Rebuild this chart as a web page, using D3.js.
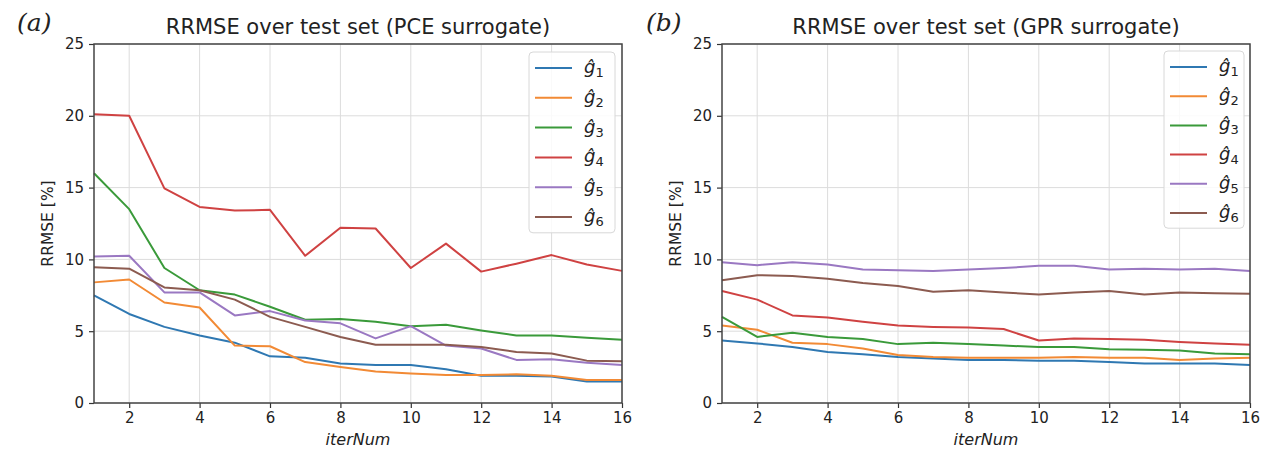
<!DOCTYPE html>
<html>
<head>
<meta charset="utf-8">
<script src="https://cdn.jsdelivr.net/npm/d3@7"></script>
<style>
  body { margin: 0; background: #fff; }
  svg { display: block; font-family: "DejaVu Sans", sans-serif; }
</style>
</head>
<body>
<div id="chart"></div>
<script>
// iteration numbers shared by both panels
const iterNum = [1, 2, 3, 4, 5, 6, 7, 8, 9, 10, 11, 12, 13, 14, 15, 16];
const seriesNames = ['1', '2', '3', '4', '5', '6'];
const seriesColors = ['#2f78b2', '#f28a35', '#3a9a3a', '#cf4242', '#9a78c2', '#8c5b50'];
const yTicks = [0, 5, 10, 15, 20, 25];
const xTicks = [2, 4, 6, 8, 10, 12, 14, 16];

// (a) PCE surrogate, RRMSE in %
const pceG1 = [7.5, 6.2, 5.3, 4.7, 4.2, 3.25, 3.15, 2.75, 2.65, 2.65, 2.35, 1.9, 1.9, 1.85, 1.5, 1.5];
const pceG2 = [8.4, 8.6, 7.0, 6.65, 4.0, 3.95, 2.85, 2.5, 2.2, 2.05, 1.95, 1.95, 2.0, 1.9, 1.6, 1.6];
const pceG3 = [16.0, 13.5, 9.4, 7.85, 7.55, 6.7, 5.8, 5.85, 5.65, 5.35, 5.45, 5.05, 4.7, 4.7, 4.55, 4.4];
const pceG4 = [20.1, 20.0, 14.95, 13.65, 13.4, 13.45, 10.25, 12.2, 12.15, 9.4, 11.1, 9.15, 9.7, 10.3, 9.65, 9.2];
const pceG5 = [10.2, 10.25, 7.7, 7.7, 6.1, 6.4, 5.75, 5.55, 4.5, 5.35, 4.0, 3.8, 3.0, 3.05, 2.8, 2.65];
const pceG6 = [9.45, 9.35, 8.05, 7.85, 7.2, 6.0, 5.3, 4.6, 4.05, 4.05, 4.05, 3.9, 3.55, 3.45, 2.95, 2.9];

// (b) GPR surrogate, RRMSE in %
const gprG1 = [4.35, 4.15, 3.9, 3.55, 3.4, 3.2, 3.1, 3.0, 3.0, 2.95, 2.95, 2.85, 2.75, 2.75, 2.75, 2.65];
const gprG2 = [5.4, 5.1, 4.2, 4.1, 3.8, 3.35, 3.2, 3.15, 3.15, 3.15, 3.2, 3.15, 3.15, 3.0, 3.1, 3.15];
const gprG3 = [6.0, 4.6, 4.9, 4.6, 4.45, 4.1, 4.2, 4.1, 4.0, 3.9, 3.9, 3.75, 3.7, 3.65, 3.45, 3.4];
const gprG4 = [7.8, 7.2, 6.1, 5.95, 5.65, 5.4, 5.3, 5.25, 5.15, 4.35, 4.5, 4.45, 4.4, 4.25, 4.15, 4.05];
const gprG5 = [9.8, 9.6, 9.8, 9.65, 9.3, 9.25, 9.2, 9.3, 9.4, 9.55, 9.55, 9.3, 9.35, 9.3, 9.35, 9.2];
const gprG6 = [8.55, 8.9, 8.85, 8.65, 8.35, 8.15, 7.75, 7.85, 7.7, 7.55, 7.7, 7.8, 7.55, 7.7, 7.65, 7.6];

const width = 1268, height = 450;

const svg = d3.select('#chart')
    .append('svg')
    .attr('width', width)
    .attr('height', height)
    .attr('viewBox', [0, 0, width, height]);

drawPanel({
    left: 94, right: 622, top: 44, bottom: 403,
    tag: '(a)', tagX: 17,
    title: 'RRMSE over test set (PCE surrogate)',
    series: [pceG1, pceG2, pceG3, pceG4, pceG5, pceG6],
    legend: { x: 529, y: 52, w: 86, rowH: 29.8 }
});

drawPanel({
    left: 722, right: 1250, top: 44, bottom: 403,
    tag: '(b)', tagX: 646,
    title: 'RRMSE over test set (GPR surrogate)',
    series: [gprG1, gprG2, gprG3, gprG4, gprG5, gprG6],
    legend: { x: 1164, y: 51, w: 80, rowH: 29.2 }
});

function drawPanel(p) {
    const x = d3.scaleLinear().domain([1, 16]).range([p.left, p.right]);
    const y = d3.scaleLinear().domain([0, 25]).range([p.bottom, p.top]);
    const g = svg.append('g');

    // Grid
    g.append('g')
        .selectAll('line')
        .data(xTicks)
        .join('line')
        .attr('x1', d => x(d)).attr('x2', d => x(d))
        .attr('y1', p.top).attr('y2', p.bottom)
        .attr('stroke', '#dcdcdc').attr('stroke-width', 1);
    g.append('g')
        .selectAll('line')
        .data(yTicks)
        .join('line')
        .attr('x1', p.left).attr('x2', p.right)
        .attr('y1', d => y(d)).attr('y2', d => y(d))
        .attr('stroke', '#dcdcdc').attr('stroke-width', 1);

    // Axes
    const xAxis = g.append('g')
        .attr('transform', `translate(0,${p.bottom})`)
        .call(d3.axisBottom(x).tickValues(xTicks).tickSize(5).tickPadding(4));
    const yAxis = g.append('g')
        .attr('transform', `translate(${p.left},0)`)
        .call(d3.axisLeft(y).tickValues(yTicks).tickSize(5).tickPadding(5));
    [xAxis, yAxis].forEach(a => {
        a.select('.domain').remove();
        a.selectAll('line').attr('stroke', '#333').attr('stroke-width', 1.2);
        a.selectAll('text')
            .attr('fill', '#222')
            .style('font-family', '"DejaVu Sans", sans-serif')
            .style('font-size', '15px');
    });

    // Lines
    const line = d3.line()
        .x((d, i) => x(iterNum[i]))
        .y(d => y(d));
    g.append('g')
        .selectAll('path')
        .data(p.series)
        .join('path')
        .attr('d', d => line(d))
        .attr('fill', 'none')
        .attr('stroke', (d, i) => seriesColors[i])
        .attr('stroke-width', 2)
        .attr('stroke-linejoin', 'round');

    // Frame
    g.append('rect')
        .attr('x', p.left).attr('y', p.top)
        .attr('width', p.right - p.left).attr('height', p.bottom - p.top)
        .attr('fill', 'none')
        .attr('stroke', '#444')
        .attr('stroke-width', 1.5);

    // Titles and labels
    g.append('text')
        .attr('x', (p.left + p.right) / 2)
        .attr('y', 34)
        .attr('text-anchor', 'middle')
        .style('font-size', '21px')
        .attr('fill', '#222')
        .text(p.title);

    g.append('text')
        .attr('x', p.tagX)
        .attr('y', 31)
        .style('font-family', '"DejaVu Serif", serif')
        .style('font-style', 'italic')
        .style('font-size', '25px')
        .attr('fill', '#222')
        .text(p.tag);

    g.append('text')
        .attr('transform', `translate(${p.left - 41},${(p.top + p.bottom) / 2}) rotate(-90)`)
        .attr('text-anchor', 'middle')
        .style('font-size', '15.5px')
        .attr('fill', '#222')
        .text('RRMSE [%]');

    g.append('text')
        .attr('x', (p.left + p.right) / 2)
        .attr('y', 445)
        .attr('text-anchor', 'middle')
        .style('font-size', '16px')
        .style('font-style', 'italic')
        .attr('fill', '#222')
        .text('iterNum');

    // Legend
    const lg = p.legend;
    const leg = g.append('g').attr('transform', `translate(${lg.x},${lg.y})`);
    leg.append('rect')
        .attr('width', lg.w)
        .attr('height', lg.rowH * seriesNames.length + 2)
        .attr('rx', 4)
        .attr('fill', 'white')
        .attr('fill-opacity', 0.85)
        .attr('stroke', '#d8d8d8');
    const row = leg.selectAll('g.row')
        .data(seriesNames)
        .join('g')
        .attr('class', 'row')
        .attr('transform', (d, i) => `translate(0,${16 + i * lg.rowH})`);
    row.append('line')
        .attr('x1', 6).attr('x2', 43)
        .attr('stroke', (d, i) => seriesColors[i])
        .attr('stroke-width', 2);
    const t = row.append('text')
        .attr('x', 55)
        .attr('y', 5)
        .attr('fill', '#222')
        .style('font-size', '18px');
    t.append('tspan')
        .style('font-style', 'italic')
        .text('ĝ');
    t.append('tspan')
        .attr('dy', 4)
        .style('font-size', '13px')
        .text(d => d);
}
</script>
</body>
</html>
